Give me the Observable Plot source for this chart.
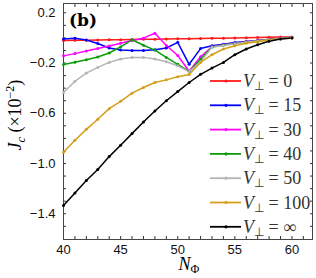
<!DOCTYPE html>
<html><head><meta charset="utf-8">
<script src="https://cdn.jsdelivr.net/npm/d3@7"></script>
<script src="https://cdn.jsdelivr.net/npm/@observablehq/plot@0.6"></script>
<style>html,body{margin:0;padding:0;background:#fff}svg{display:block}</style>
</head><body><div id="chart"></div>
<script>
// ---- data ----
const nPhi = [40,41,42,43,44,45,46,47,48,49,50,51,52,53,54,55,56,57,58,59,60];
const seriesLabels = ["0","15","30","40","50","100","∞"];
const seriesColors = ["#ff1a1a","#0000ff","#ff00ff","#0a9e0a","#b4b4b4","#d4a017","#000000"];
const jcV0   = [-0.02,-0.019,-0.018,-0.017,-0.015,-0.014,-0.013,-0.011,-0.01,-0.009,-0.007,-0.006,-0.005,-0.003,-0.002,0,0.002,0.004,0.005,0.007,0.008];
const jcV15  = [-0.008,-0.003,-0.017,-0.045,-0.08,-0.096,-0.1,-0.1,-0.094,-0.08,-0.035,-0.21,-0.085,-0.062,-0.05,-0.037,-0.028,-0.02,-0.012,-0.004,0.003];
const jcV30  = [-0.143,-0.125,-0.105,-0.085,-0.065,-0.042,-0.02,-0.002,0.037,-0.06,-0.14,-0.265,-0.15,-0.07,-0.055,-0.042,-0.03,-0.02,-0.01,-0.002,0.004];
const jcV40  = [-0.212,-0.193,-0.174,-0.152,-0.12,-0.072,-0.015,-0.058,-0.097,-0.155,-0.21,-0.267,-0.17,-0.072,-0.057,-0.044,-0.032,-0.022,-0.012,-0.004,0.003];
const jcV50  = [-0.435,-0.345,-0.28,-0.235,-0.195,-0.168,-0.155,-0.155,-0.168,-0.19,-0.222,-0.268,-0.19,-0.075,-0.06,-0.046,-0.034,-0.024,-0.014,-0.005,0.002];
const jcV100 = [-0.91,-0.815,-0.728,-0.648,-0.563,-0.505,-0.44,-0.395,-0.355,-0.334,-0.31,-0.292,-0.195,-0.134,-0.088,-0.062,-0.043,-0.03,-0.017,-0.008,0.0];
const jcVinf = [-1.335,-1.235,-1.135,-1.048,-0.945,-0.854,-0.762,-0.67,-0.582,-0.5,-0.427,-0.355,-0.29,-0.24,-0.195,-0.134,-0.088,-0.054,-0.027,-0.008,0.0];
const xTickLabels = [40,45,50,55,60];
const yTickLabels = [0.2,-0.2,-0.6,-1.0,-1.4];
const xMinorTicks = [40,41,42,43,44,45,46,47,48,49,50,51,52,53,54,55,56,57,58,59,60,61];
const yMinorTicks = [0.2,0.1,0,-0.1,-0.2,-0.3,-0.4,-0.5,-0.6,-0.7,-0.8,-0.9,-1.0,-1.1,-1.2,-1.3,-1.4,-1.5];

// ---- build table ----
const allSeries = [jcV0,jcV15,jcV30,jcV40,jcV50,jcV100,jcVinf];
const rows = [];
allSeries.forEach((vals,i)=>vals.forEach((v,j)=>rows.push({n:nPhi[j], jc:v, s:seriesLabels[i]})));

const tickFmt = d3.format(".1f");
const plot = Plot.plot({
  width:316, height:278,
  marginLeft:63, marginRight:4, marginTop:3, marginBottom:39,
  style:{fontFamily:"'Liberation Sans', Arial, sans-serif", fontSize:"13px", background:"white", color:"#111"},
  x:{domain:[40,61.8], label:null},
  y:{domain:[-1.605,0.274], label:null},
  color:{domain:seriesLabels, range:seriesColors},
  marks:[
    // inward ticks on all sides
    Plot.axisX({anchor:"bottom", ticks:xMinorTicks, tickSize:3, dy:-3, text:null, label:null, stroke:"#333"}),
    Plot.axisX({anchor:"top", ticks:xMinorTicks, tickSize:3, dy:3, text:null, label:null, stroke:"#333"}),
    Plot.axisY({anchor:"left", ticks:yMinorTicks, tickSize:3, dx:3, text:null, label:null, stroke:"#333"}),
    Plot.axisY({anchor:"right", ticks:yMinorTicks, tickSize:3, dx:-3, text:null, label:null, stroke:"#333"}),
    Plot.axisX({anchor:"bottom", ticks:xTickLabels, tickSize:0, tickPadding:5, tickFormat:d=>String(d), label:null, fontSize:13}),
    Plot.axisY({anchor:"left", ticks:yTickLabels, tickSize:0, tickPadding:8, tickFormat:tickFmt, label:null, fontSize:13}),
    Plot.frame({stroke:"#444", strokeWidth:1}),
    Plot.line(rows, {x:"n", y:"jc", z:"s", stroke:"s", strokeWidth:1.5}),
    Plot.dot(rows, {x:"n", y:"jc", fill:"s", r:1.5, stroke:null})
  ]
});
document.getElementById("chart").appendChild(plot);

// ---- annotations & legend (real text) ----
const svg = d3.select(plot);
const serif = "'Liberation Serif', 'Times New Roman', serif";

// panel label
svg.append("text").attr("x",69).attr("y",26).attr("text-anchor","start")
  .attr("font-family","'DejaVu Serif', serif").attr("font-weight","bold").attr("font-size",17)
  .attr("fill","#000").text("(b)");

// x label
const xl = svg.append("text").attr("x",189).attr("y",270).attr("text-anchor","middle")
  .attr("font-family",serif).attr("font-size",18).attr("fill","#000");
xl.append("tspan").attr("font-style","italic").text("N");
xl.append("tspan").attr("font-size",12).attr("dy",3).text("Φ");

// y label
const yl = svg.append("text").attr("transform","translate(21,115) rotate(-90)").attr("text-anchor","middle")
  .attr("font-family",serif).attr("font-size",18).attr("fill","#000");
yl.append("tspan").attr("font-style","italic").text("J");
yl.append("tspan").attr("font-style","italic").attr("font-size",12).attr("dy",4).text("c");
yl.append("tspan").attr("dy",-4).text(" (×10");
yl.append("tspan").attr("font-size",12).attr("dy",-7).text("−2");
yl.append("tspan").attr("dy",7).text(")");

// legend
const lg = svg.append("g");
seriesLabels.forEach((lab,i)=>{
  const y = 81 + i*24.3;
  lg.append("line").attr("x1",210).attr("x2",241).attr("y1",y).attr("y2",y)
    .attr("stroke",seriesColors[i]).attr("stroke-width",1.8);
  lg.append("circle").attr("cx",226).attr("cy",y).attr("r",1.6).attr("fill",seriesColors[i]);
  const t = lg.append("text").attr("x",243).attr("y",y+6).attr("text-anchor","start")
    .attr("font-family",serif).attr("font-size",18).attr("fill","#333");
  t.append("tspan").attr("font-style","italic").text("V");
  t.append("tspan").attr("font-size",12).attr("dy",3).text("⊥");
  t.append("tspan").attr("dy",-3).text(" = " + lab);
});
</script>
</body></html>
